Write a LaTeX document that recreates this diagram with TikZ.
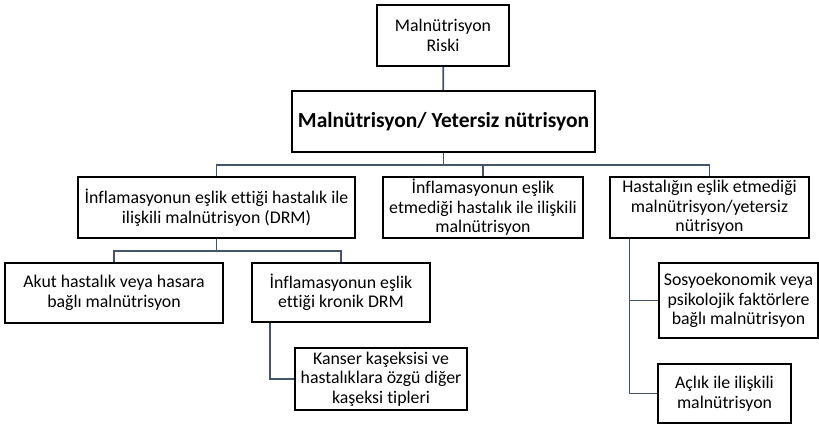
\documentclass[tikz,border=0pt]{standalone}
\usepackage{fontspec}
\setmainfont{Carlito}[Ligatures=NoCommon]
\usepackage{tikz}
\usetikzlibrary{calc}
\definecolor{slate}{HTML}{44546A}

\begin{document}
\begin{tikzpicture}[
  x=1pt, y=-1pt,
  box/.style={rectangle, draw=black, line width=1.8pt, align=center,
    minimum height=61pt, inner sep=1pt, font=\fontsize{17.8}{19.5}\selectfont},
  link/.style={draw=slate, line width=1.8pt}
]
\useasboundingbox (0,0) rectangle (819,426);

% top two levels
\node[box, minimum width=132pt] (risk) at (443,35.5) {Malnütrisyon\\Riski};
\node[box, minimum width=303pt, font=\fontsize{21.5}{25}\bfseries] (main) at (443.5,121.5)
  {Malnütrisyon/ Yetersiz nütrisyon};

% second level
\node[box, minimum width=277pt] (drm) at (216.5,207.5)
  {İnflamasyonun eşlik ettiği hastalık ile\\ilişkili malnütrisyon (DRM)};
\node[box, minimum width=200pt] (infdis) at (483,207.5)
  {İnflamasyonun eşlik\\etmediği hastalık ile ilişkili\\malnütrisyon};
\node[box, minimum width=199pt] (nodis) at (709.5,207.5)
  {Hastalığın eşlik etmediği\\malnütrisyon/yetersiz\\nütrisyon};

% third level
\node[box, minimum width=218pt, minimum height=60pt] (akut) at (114,293)
  {Akut hastalık veya hasara\\bağlı malnütrisyon};
\node[box, minimum width=178pt, minimum height=59pt] (kronik) at (341,292.5)
  {İnflamasyonun eşlik\\ettiği kronik DRM};
\node[box, minimum width=172pt, minimum height=62pt] (kanser) at (381,379)
  {Kanser kaşeksisi ve\\hastalıklara özgü diğer\\kaşeksi tipleri};
\node[box, minimum width=159pt, minimum height=75pt] (sosyo) at (738.5,300.5)
  {Sosyoekonomik veya\\psikolojik faktörlere\\bağlı malnütrisyon};
\node[box, minimum width=133pt, minimum height=59pt] (aclik) at (724.5,393.5)
  {Açlık ile ilişkili\\malnütrisyon};

% bus points
\coordinate (bus1) at (443.5,165);
\coordinate (bus2) at (216.5,251);

% connectors
\draw[link] (risk) -- (main);
\draw[link] (main) -- (bus1);
\draw[link] (drm.north) |- (bus1) -| (nodis.north);
\draw[link] (infdis.north) -- (infdis.north |- bus1);
\draw[link] (drm) -- (bus2);
\draw[link] (akut.north) |- (bus2) -| (kronik.north);
\draw[link] ([xshift=-71pt]kronik.south) |- (kanser.west);
\draw[link] ([xshift=-80pt]nodis.south) |- (aclik.west);
\draw[link] ([xshift=-80pt]nodis.south |- sosyo.west) -- (sosyo.west);
\end{tikzpicture}
\end{document}
